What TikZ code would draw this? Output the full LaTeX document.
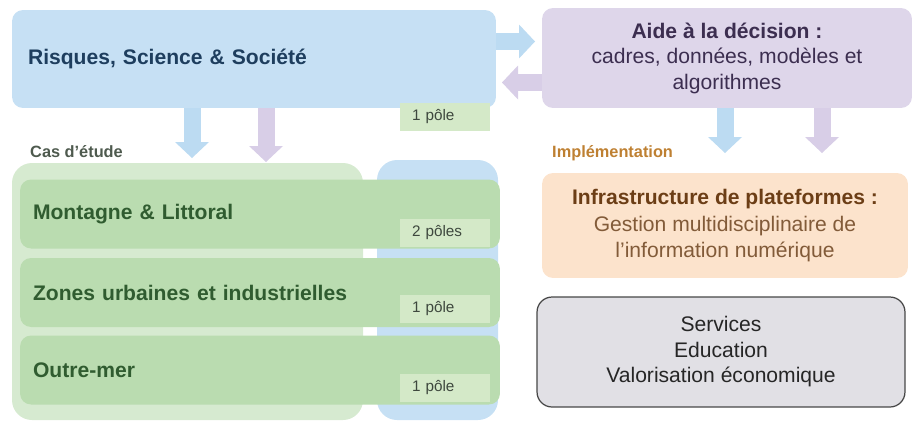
\documentclass[tikz,border=0pt]{standalone}
\usepackage{fontspec}
\setmainfont{Liberation Sans}
\usetikzlibrary{arrows.meta}
\definecolor{boxblue}{RGB}{198,224,244}
\definecolor{arrowblue}{RGB}{188,219,242}
\definecolor{boxpurple}{RGB}{222,214,234}
\definecolor{arrowpurple}{RGB}{216,206,231}
\definecolor{rowgreen}{RGB}{186,220,176}
\definecolor{casgreen}{RGB}{214,234,208}
\definecolor{taggreen}{RGB}{212,233,200}
\definecolor{boxorange}{RGB}{252,227,204}
\definecolor{boxgrey}{RGB}{225,224,229}
\definecolor{riskblue}{RGB}{30,62,94}
\definecolor{darkgreen}{RGB}{48,92,48}
\definecolor{aidetext}{RGB}{60,46,80}
\definecolor{infrabrown}{RGB}{108,62,22}
\definecolor{implorange}{RGB}{190,128,50}
\definecolor{casgrey}{RGB}{78,90,78}
\tikzset{
	bigtext/.style={font=\fontsize{12}{14.5}\selectfont},
	smalltext/.style={font=\fontsize{8.7}{10}\selectfont},
	headtext/.style={font=\fontsize{9.3}{11}\selectfont\bfseries},
	panel/.style={rounded corners=0.22cm, inner sep=0pt, bigtext},
	casrow/.style={panel, fill=rowgreen, text width=9.08cm, inner xsep=0.26cm, minimum height=1.38cm, align=left, font=\fontsize{12}{14.5}\selectfont\bfseries, text=darkgreen},
	poletag/.style={fill=taggreen, inner sep=0pt, inner xsep=0.24cm, text width=1.32cm, minimum height=0.56cm, align=left, smalltext, text=casgrey!80!black},
	bluearrow/.style={draw=arrowblue, line width=0.34cm, -{Triangle[width=0.68cm, length=0.32cm, line width=0pt]}},
	purplearrow/.style={draw=arrowpurple, line width=0.34cm, -{Triangle[width=0.68cm, length=0.32cm, line width=0pt]}}
}
\begin{document}
\begin{tikzpicture}[x=0.02cm, y=-0.02cm]
	\useasboundingbox (0,0) rectangle (918,423);
	\fill[casgreen, rounded corners=0.4cm] (12,163) rectangle (363,420);
	\fill[boxblue, rounded corners=0.4cm] (377,160) rectangle (498,420);
	\node[panel, fill=boxblue, minimum height=1.96cm, text width=9.04cm, inner xsep=0.32cm, align=left, font=\fontsize{12}{14.5}\selectfont\bfseries, text=riskblue] (risk) at (254,59) {Risques, Science \& Société};
	\node[panel, fill=boxpurple, minimum width=7.4cm, minimum height=2cm, align=center, text=aidetext] (aide) at (727,58) {\textbf{Aide à la décision :}\\cadres, données, modèles et\\algorithmes};
	\node[poletag] (poletop) at (445,116.5) {1 pôle};
	\node[anchor=west, headtext, text=casgrey] (cas) at (24,152) {Cas d'étude};
	\node[anchor=west, headtext, text=implorange] (impl) at (546,153) {Implémentation};
	\coordinate (tipa) at (192,158);
	\coordinate (tipb) at (266,162);
	\coordinate (tipc) at (725,153);
	\coordinate (tipd) at (822,153);
	\coordinate (tipe) at (535,41.5);
	\coordinate (tipf) at (502,82.5);
	\draw[bluearrow] (risk.south -| tipa) -- (tipa);
	\draw[purplearrow] (risk.south -| tipb) -- (tipb);
	\draw[bluearrow] (aide.south -| tipc) -- (tipc);
	\draw[purplearrow] (aide.south -| tipd) -- (tipd);
	\draw[bluearrow] (risk.east |- tipe) -- (tipe);
	\draw[purplearrow] (aide.west |- tipf) -- (tipf);
	\node[casrow] (mont) at (260,214) {Montagne \& Littoral};
	\node[casrow] (zones) at (260,292.5) {Zones urbaines et industrielles};
	\node[casrow] (outre) at (260,370) {Outre-mer};
	\node[poletag] (polemont) at (445,232.5) {2 pôles};
	\node[poletag] (polezones) at (445,309) {1 pôle};
	\node[poletag] (poleoutre) at (445,387.5) {1 pôle};
	\node[panel, fill=boxorange, minimum width=7.32cm, minimum height=2.1cm, align=center, text=infrabrown!85!white] (infra) at (725,225.5) {\textbf{\textcolor{infrabrown}{Infrastructure de plateformes :}}\\[1pt]Gestion multidisciplinaire de\\l'information numérique};
	\node[panel, draw=black!72, line width=0.7pt, fill=boxgrey, rounded corners=0.3cm, minimum width=7.36cm, minimum height=2.2cm, align=center, text=black!85] (serv) at (721,352) {Services\\Education\\Valorisation économique};
\end{tikzpicture}
\end{document}
